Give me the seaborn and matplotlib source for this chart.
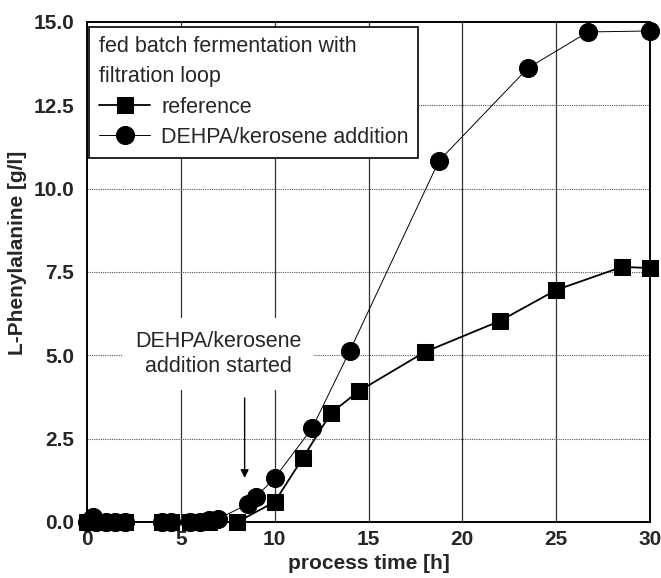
import matplotlib
matplotlib.use("Agg")
import matplotlib.pyplot as plt
import seaborn as sns
import pandas as pd

# Reference fed batch (squares)
ref_time = [0.0, 0.5, 1.0, 1.5, 2.0, 4.0, 4.5, 5.5, 6.0, 6.5, 8.0,
            10.0, 11.5, 13.0, 14.5, 18.0, 22.0, 25.0, 28.5, 30.0]
ref_phe = [0.0, 0.0, 0.0, 0.0, 0.0, 0.0, 0.0, 0.0, 0.0, 0.0, 0.0,
           0.6, 1.92, 3.27, 3.93, 5.1, 6.03, 6.96, 7.65, 7.62]

# DEHPA/kerosene addition (circles)
deh_time = [0.0, 0.3, 0.5, 1.0, 1.5, 2.0, 4.0, 4.5, 5.5, 6.0, 6.5, 7.0,
            8.6, 9.0, 10.0, 12.0, 14.0, 18.75, 23.5, 26.7, 30.0]
deh_phe = [0.0, 0.15, 0.0, 0.0, 0.0, 0.0, 0.0, 0.0, 0.0, 0.0, 0.05, 0.1,
           0.54, 0.75, 1.32, 2.82, 5.13, 10.83, 13.62, 14.7, 14.73]

x_ticks = [0, 5, 10, 15, 20, 25, 30]
y_ticks = [0.0, 2.5, 5.0, 7.5, 10.0, 12.5, 15.0]
y_tick_labels = ["0.0", "2.5", "5.0", "7.5", "10.0", "12.5", "15.0"]

sns.set_style("white")
plt.rcParams["font.family"] = ["Liberation Sans", "DejaVu Sans"]

fig = plt.figure(figsize=(6.61, 5.78), dpi=100)
ax = fig.add_axes([0.1316, 0.0969, 0.8518, 0.8651])

# grid: solid verticals, dotted horizontals
for xv in x_ticks[1:-1]:
    ax.axvline(xv, color="#333333", lw=0.9, zorder=0)
for yv in y_ticks[1:-1]:
    ax.axhline(yv, color="#555555", lw=0.8, ls=(0, (1, 1)), zorder=0)

df_ref = pd.DataFrame({"t": ref_time, "c": ref_phe})
df_deh = pd.DataFrame({"t": deh_time, "c": deh_phe})

sns.lineplot(data=df_ref, x="t", y="c", ax=ax, color="black", lw=1.3,
             marker="s", markersize=11, markeredgecolor="black",
             label="reference", clip_on=False, zorder=3, sort=False)
sns.lineplot(data=df_deh, x="t", y="c", ax=ax, color="black", lw=0.7,
             marker="o", markersize=13, markeredgecolor="black",
             label="DEHPA/kerosene addition", clip_on=False, zorder=4, sort=False)

ax.set_xlim(0, 30)
ax.set_ylim(0, 15)
ax.set_xticks(x_ticks)
ax.set_yticks(y_ticks)
ax.set_yticklabels(y_tick_labels)
ax.tick_params(axis="y", length=0, pad=9, labelsize=15)
ax.tick_params(axis="x", length=0, pad=6, labelsize=15)
for lab in ax.get_xticklabels() + ax.get_yticklabels():
    lab.set_fontweight("bold")

ax.set_xlabel("process time [h]", fontsize=15, fontweight="bold", va="top")
ax.xaxis.set_label_coords(0.5, -0.064)
ax.set_ylabel("L-Phenylalanine [g/l]", fontsize=15, fontweight="bold")
ax.yaxis.set_label_coords(-0.107, 0.538)

for sp in ax.spines.values():
    sp.set_color("black")
    sp.set_linewidth(1.4)

leg = ax.legend(title="fed batch fermentation with\nfiltration loop",
                loc="upper left", bbox_to_anchor=(0.0, 0.995), fontsize=15.5,
                title_fontsize=15.5, frameon=True, fancybox=False,
                edgecolor="black", framealpha=1.0, borderpad=0.45,
                handlelength=2.4, handletextpad=0.5, labelspacing=0.42,
                borderaxespad=0.1)
leg._legend_box.align = "left"
leg._legend_box.sep = 7
leg.get_title().set_linespacing(1.55)
leg.get_frame().set_linewidth(1.2)
leg.set_zorder(10)

# annotation text and its vertical arrow
ax.text(7.0, 5.04, "DEHPA/kerosene\naddition started", ha="center", va="center",
        fontsize=15.5, linespacing=1.3, zorder=6,
        bbox=dict(facecolor="white", edgecolor="none", pad=9))
ax.annotate("", xy=(8.4, 1.32), xytext=(8.4, 3.72),
            arrowprops=dict(arrowstyle="-|>", color="black", lw=1.0,
                            mutation_scale=12, shrinkA=0, shrinkB=0),
            zorder=6)

fig.savefig("out.png", dpi=100)
